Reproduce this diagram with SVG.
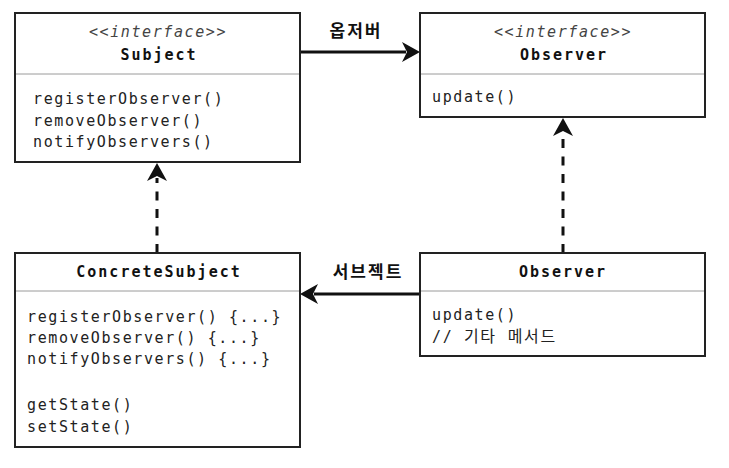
<svg xmlns="http://www.w3.org/2000/svg" width="729" height="468" viewBox="0 0 729 468">
<style>
.box{fill:#fff;stroke:#222;stroke-width:2}
.div{stroke:#9a9a9a;stroke-width:1}
.t{font-family:"DejaVu Sans Mono","Noto Sans CJK KR",monospace;font-size:15px;letter-spacing:1.6px;fill:#222}
.b{font-weight:bold;fill:#111;text-anchor:middle;letter-spacing:2px}
.i{font-style:italic;fill:#444;text-anchor:middle}
.ko{font-size:16px}
.lbl{font-family:"Noto Sans CJK KR",sans-serif;font-size:17px;font-weight:bold;letter-spacing:2px;fill:#111;text-anchor:middle}
.solid{stroke:#111;stroke-width:3;fill:none}
.dash{stroke:#111;stroke-width:3;fill:none;stroke-dasharray:9 8.5}
.head{fill:#111}
</style>
<rect width="729" height="468" fill="#fff"/>
<g id="connectors">
  <line class="solid" x1="301" y1="52" x2="406" y2="52"/>
  <polygon class="head" points="420,52 402,42 407,52 402,62"/>
  <text class="lbl" x="356" y="37">옵저버</text>
  <line class="solid" x1="419" y1="294" x2="314" y2="294"/>
  <polygon class="head" points="300,294 318,284 313,294 318,304"/>
  <text class="lbl" x="368" y="278">서브젝트</text>
  <path class="dash" d="M157,253 L157,178"/>
  <polygon class="head" points="157,163 147,181 157,176 167,181"/>
  <path class="dash" d="M563,253 L563,133"/>
  <polygon class="head" points="563,118 553,136 563,131 573,136"/>
</g>
<g id="subject">
  <rect class="box" x="15" y="13" width="285" height="149"/>
  <line class="div" x1="16" y1="74" x2="299" y2="74"/>
  <text class="t i" x="158" y="37">&lt;&lt;interface&gt;&gt;</text>
  <text class="t b" x="159" y="60">Subject</text>
  <text class="t" x="33" y="104">registerObserver()</text>
  <text class="t" x="33" y="125.5">removeObserver()</text>
  <text class="t" x="33" y="147">notifyObservers()</text>
</g>
<g id="observer-interface">
  <rect class="box" x="420" y="13" width="285" height="104"/>
  <line class="div" x1="421" y1="74" x2="704" y2="74"/>
  <text class="t i" x="563" y="37">&lt;&lt;interface&gt;&gt;</text>
  <text class="t b" x="564" y="60">Observer</text>
  <text class="t" x="432" y="102">update()</text>
</g>
<g id="concrete-subject">
  <rect class="box" x="15" y="253" width="285" height="194"/>
  <line class="div" x1="16" y1="291" x2="299" y2="291"/>
  <text class="t b" x="159" y="277">ConcreteSubject</text>
  <text class="t" x="27" y="322">registerObserver() {...}</text>
  <text class="t" x="27" y="343">removeObserver() {...}</text>
  <text class="t" x="27" y="364">notifyObservers() {...}</text>
  <text class="t" x="27" y="410">getState()</text>
  <text class="t" x="27" y="431.5">setState()</text>
</g>
<g id="concrete-observer">
  <rect class="box" x="420" y="253" width="285" height="103"/>
  <line class="div" x1="421" y1="291" x2="704" y2="291"/>
  <text class="t b" x="563" y="277">Observer</text>
  <text class="t" x="432" y="320">update()</text>
  <text class="t" x="432" y="341.5">// <tspan class="ko">기타 메서드</tspan></text>
</g>
</svg>
